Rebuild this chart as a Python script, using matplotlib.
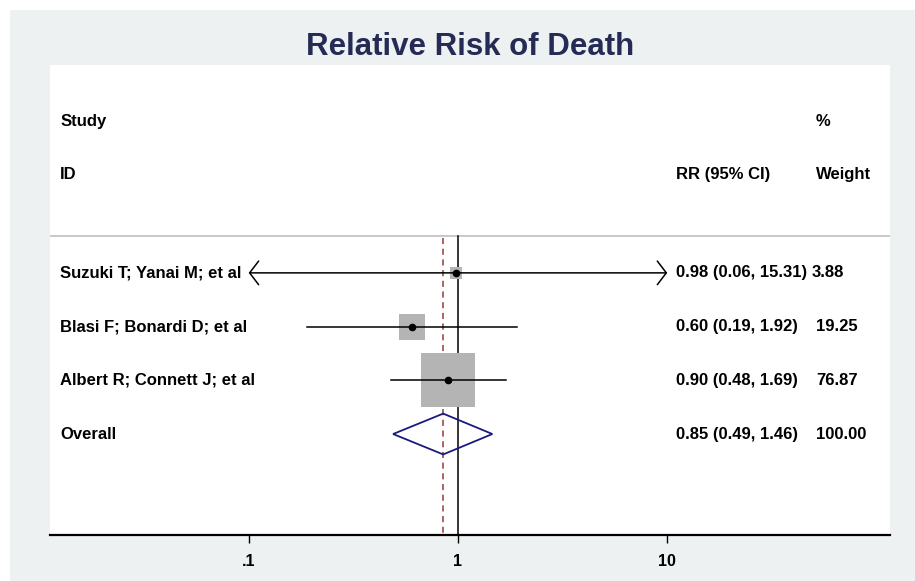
import numpy as np
import matplotlib.pyplot as plt
from matplotlib.patches import Rectangle, Polygon
import matplotlib.transforms as mtransforms

plt.rcParams['font.family'] = ['Liberation Sans', 'DejaVu Sans']
plt.rcParams['font.weight'] = 'bold'

# study data: relative risk with 95% CI and weight (%)
studies = ["Suzuki T; Yanai M; et al", "Blasi F; Bonardi D; et al", "Albert R; Connett J; et al"]
rr = [0.98, 0.60, 0.90]
lo = [0.06, 0.19, 0.48]
hi = [15.31, 1.92, 1.69]
weight = [3.88, 19.25, 76.87]

# pooled estimate
overall_rr = 0.85
overall_lo = 0.49
overall_hi = 1.46
overall_w = 100.00

xticks = [0.1, 1, 10]
xtick_labels = [".1", "1", "10"]

W, H = 915, 581
fig = plt.figure(figsize=(W / 100, H / 100), dpi=100, facecolor='white')
fig.patches.append(Rectangle((10 / W, 0), (W - 10) / W, (H - 10) / H,
                             transform=fig.transFigure, facecolor='#edf1f2',
                             edgecolor='none', zorder=-10))

ax = fig.add_axes([50 / W, (H - 535) / H, 840 / W, 470 / H])
ax.set_facecolor('white')
ax.set_xscale('log')
ax.set_xlim(10 ** (-1.949), 10 ** (2.064))
ax.set_ylim(5.88, -2.87)

for s in ['top', 'left', 'right']:
    ax.spines[s].set_visible(False)
ax.spines['bottom'].set_linewidth(1.6)
ax.set_yticks([])
ax.set_xticks(xticks)
ax.set_xticklabels(xtick_labels, fontsize=11.5, fontweight='bold')
ax.xaxis.set_minor_locator(plt.NullLocator())
ax.tick_params(axis='x', length=6, width=1, pad=8)

rows = np.arange(1, len(studies) + 1)
header_y = 0.31
trans = mtransforms.blended_transform_factory(ax.transAxes, ax.transData)
fs = 12

# header
ax.plot([0, 1], [header_y, header_y], transform=trans, color='#c8c8c8', lw=1.4, zorder=1)
ax.text(0.012, -1.81, "Study", transform=trans, fontsize=fs, va='center')
ax.text(0.012, -0.84, "ID", transform=trans, fontsize=fs, va='center')
ax.text(0.745, -0.84, "RR (95% CI)", transform=trans, fontsize=fs, va='center')
ax.text(0.912, -1.81, "%", transform=trans, fontsize=fs, va='center')
ax.text(0.912, -0.84, "Weight", transform=trans, fontsize=fs, va='center')

# reference lines
ax.plot([1, 1], [header_y, 5.88], color='black', lw=1.1, zorder=2)
ax.plot([overall_rr, overall_rr], [header_y + 0.05, 5.88], color='#8e3c3c', lw=1.1,
        dashes=(4, 3), zorder=2)

xmin_ci, xmax_ci = xticks[0], xticks[-1]
size_scale = 38.2 / np.sqrt(max(weight))
for y, name, r, l, h, w in zip(rows, studies, rr, lo, hi, weight):
    ax.plot([r], [y], marker='s', markersize=size_scale * np.sqrt(w),
            color='#b4b4b4', markeredgewidth=0, zorder=3)
    l_c, h_c = max(l, xmin_ci), min(h, xmax_ci)
    if l < xmin_ci or h > xmax_ci:
        style = '<->' if (l < xmin_ci and h > xmax_ci) else ('<-' if l < xmin_ci else '->')
        ax.annotate('', xy=(h_c, y), xytext=(l_c, y),
                    arrowprops=dict(arrowstyle=style + ', head_length=0.65, head_width=0.85',
                                    lw=1.1, color='black', shrinkA=0, shrinkB=0), zorder=4)
    else:
        ax.plot([l_c, h_c], [y, y], color='black', lw=1.1, zorder=4)
    ax.plot([r], [y], marker='o', markersize=4.5, color='black', zorder=5)
    ax.text(0.012, y, name, transform=trans, fontsize=fs, va='center')
    ax.text(0.745, y, f"{r:.2f} ({l:.2f}, {h:.2f})", transform=trans, fontsize=fs, va='center')
    ax.text(0.912 if w >= 10 else 0.907, y, f"{w:.2f}", transform=trans, fontsize=fs, va='center')

# overall diamond
oy = len(studies) + 1
ax.add_patch(Polygon([(overall_lo, oy), (overall_rr, oy - 0.38), (overall_hi, oy),
                      (overall_rr, oy + 0.38)], closed=True, fill=False,
                     edgecolor='#1a1a80', lw=1.3, zorder=4))
ax.text(0.012, oy, "Overall", transform=trans, fontsize=fs, va='center')
ax.text(0.745, oy, f"{overall_rr:.2f} ({overall_lo:.2f}, {overall_hi:.2f})",
        transform=trans, fontsize=fs, va='center')
ax.text(0.912, oy, f"{overall_w:.2f}", transform=trans, fontsize=fs, va='center')

fig.text(470 / W, 1 - 47 / H, "Relative Risk of Death", ha='center', va='center',
         fontsize=22.5, fontweight='bold', color='#252b55')

fig.savefig('out.png', dpi=100, facecolor=fig.get_facecolor())
